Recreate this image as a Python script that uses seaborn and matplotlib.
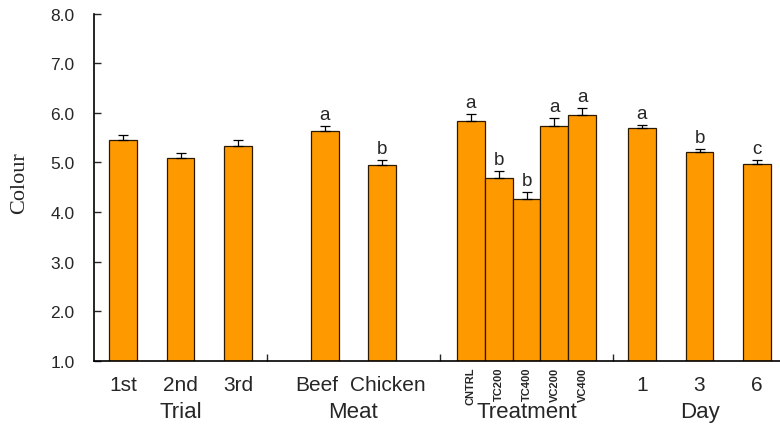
import seaborn as sns
import pandas as pd
import numpy as np
import matplotlib.pyplot as plt
import matplotlib.transforms as mtransforms

# values (mean colour score and standard error)
groups = ['Trial', 'Meat', 'Treatment', 'Day']
trial_labels = ['1st', '2nd', '3rd']
trial_means = [5.45, 5.08, 5.34]
trial_se = [0.11, 0.12, 0.11]
trial_letters = ['', '', '']

meat_labels = ['Beef', 'Chicken']
meat_means = [5.63, 4.95]
meat_se = [0.10, 0.09]
meat_letters = ['a', 'b']

treat_labels = ['CNTRL', 'TC200', 'TC400', 'VC200', 'VC400']
treat_means = [5.84, 4.68, 4.26, 5.74, 5.96]
treat_se = [0.14, 0.14, 0.14, 0.15, 0.13]
treat_letters = ['a', 'b', 'b', 'a', 'a']

day_labels = ['1', '3', '6']
day_means = [5.70, 5.22, 4.97]
day_se = [0.05, 0.05, 0.07]
day_letters = ['a', 'b', 'c']

BAR = '#FF9900'


def positions(g, n, step):
    # centre the bars of group g inside its 3-unit slot
    centre = g * 3 + 1.5
    return [centre + (k - (n - 1) / 2) * step for k in range(n)]


rows = []
spec = [(trial_labels, trial_means, trial_se, trial_letters, 1.0),
        (meat_labels, meat_means, meat_se, meat_letters, 1.0),
        (treat_labels, treat_means, treat_se, treat_letters, 0.485),
        (day_labels, day_means, day_se, day_letters, 1.0)]
for g, (labs, means, ses, lets, step) in enumerate(spec):
    for x, lab, m, s, l in zip(positions(g, len(labs), step), labs, means, ses, lets):
        rows.append(dict(group=groups[g], label=lab, x=x, colour=m, se=s, letter=l))
df = pd.DataFrame(rows)

sns.set_style('white')
plt.rcParams['font.family'] = ['Liberation Sans', 'DejaVu Sans']

fig = plt.figure(figsize=(7.8, 4.27), dpi=100)
ax = fig.add_axes([94 / 780, 1 - 361.7 / 427, 692 / 780, 347 / 427])

sns.barplot(data=df, x='x', y='colour', native_scale=True, width=1.0,
            color=BAR, saturation=1, errorbar=None,
            edgecolor='#2b1a00', linewidth=0.9, ax=ax)
ax.errorbar(df['x'], df['colour'], yerr=[np.zeros(len(df)), df['se']],
            fmt='none', ecolor='black', elinewidth=0.9, capsize=3.5, capthick=0.9)

for _, r in df.iterrows():
    if r['letter']:
        ax.text(r['x'], r['colour'] + r['se'] + 0.06, r['letter'],
                ha='center', va='bottom', fontsize=13.5)

ax.set_xlim(0, 12)
ax.set_ylim(1, 8)
ax.set_yticks(np.arange(1, 8.1, 1))
ax.set_yticklabels([f'{v:.1f}' for v in np.arange(1, 8.1, 1)], fontsize=12.5)
ax.set_xticks([3, 6, 9])
ax.set_xticklabels([])
ax.tick_params(axis='y', direction='in', length=5, width=1, pad=14, left=True)
ax.tick_params(axis='x', direction='in', length=5, width=1, bottom=True)
ax.set_xlabel('')
ax.set_ylabel('Colour', family='Liberation Serif', fontsize=16)
ax.yaxis.set_label_coords(-0.094, 0.515)

for side in ['top', 'right']:
    ax.spines[side].set_visible(False)
for side in ['left', 'bottom']:
    ax.spines[side].set_color('black')
    ax.spines[side].set_linewidth(1.2)

trans = mtransforms.blended_transform_factory(ax.transData, ax.transAxes)
for _, r in df.iterrows():
    if r['group'] == 'Treatment':
        ax.text(r['x'], -0.018, r['label'], transform=trans, rotation=90,
                ha='center', va='top', fontsize=8, fontweight='bold')
    elif r['group'] == 'Meat':
        # the two meat labels sit as one phrase, slightly off the bar centres
        left = r['label'] == meat_labels[0]
        ax.text(r['x'] + (0.23 if left else -0.56), -0.07, r['label'], transform=trans,
                ha='right' if left else 'left', va='center', fontsize=15)
    else:
        ax.text(r['x'], -0.07, r['label'], transform=trans,
                ha='center', va='center', fontsize=15)
for g, name in enumerate(groups):
    ax.text(g * 3 + 1.5, -0.147, name, transform=trans,
            ha='center', va='center', fontsize=16)

fig.savefig('out.png', dpi=100)
